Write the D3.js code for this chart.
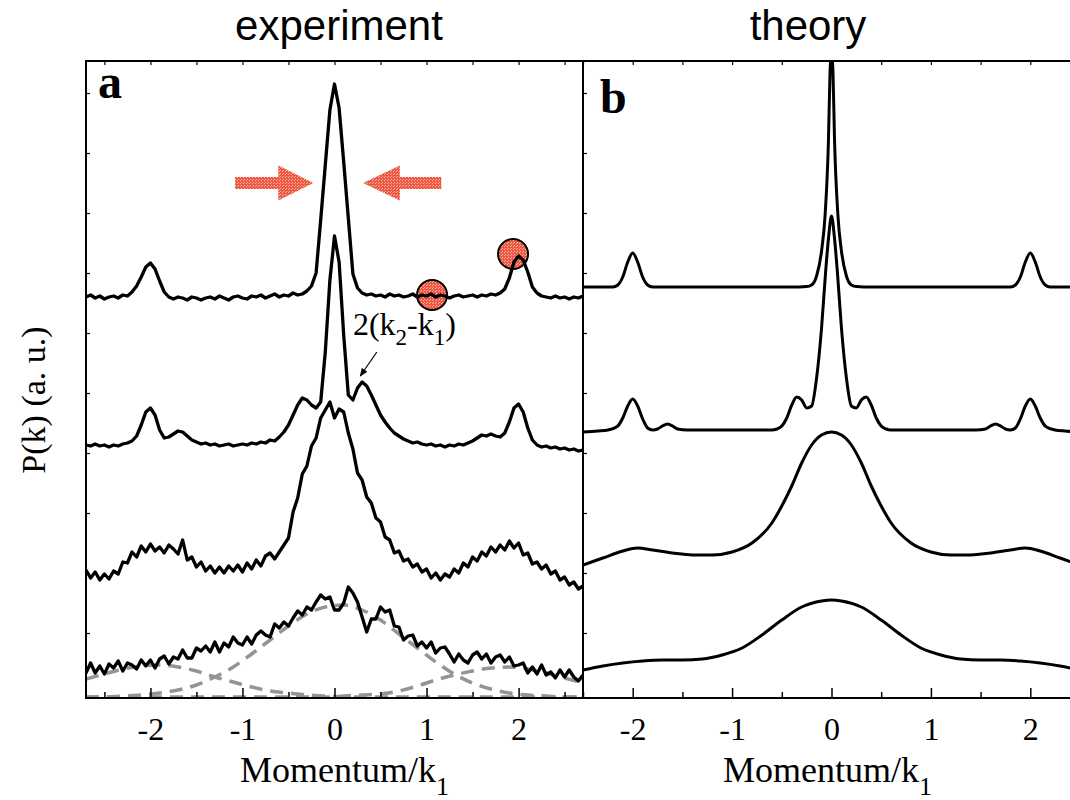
<!DOCTYPE html>
<html>
<head>
<meta charset="utf-8">
<script src="https://cdn.jsdelivr.net/npm/d3@7"></script>
<style>
  body { margin: 0; background: #fff; }
  svg { display: block; }
  .serif { font-family: "Liberation Serif", "Times New Roman", serif; }
  .sans { font-family: "Liberation Sans", Arial, sans-serif; }
</style>
</head>
<body>
<svg id="chart" width="1070" height="800"></svg>
<script>
// ---- experiment (panel a): P(k) sampled every 0.05 from k = -2.70 ----
const expStart = -2.7, expStep = 0.05;
const expTop = [
  401,403,400,402,399,401,402,400,403,402,
  406,412,421,431,435,429,417,406,401,399,
  401,400,398,401,400,398,400,401,399,402,
  400,398,401,402,400,399,402,401,403,400,
  402,404,401,403,402,405,403,404,407,412,
  425,478,533,588,614,590,536,480,424,410,
  405,403,404,402,403,401,404,402,403,401,
  402,404,401,403,402,404,401,403,402,400,
  402,403,401,402,403,401,403,402,404,403,
  405,409,420,436,442,438,426,411,405,402,
  401,400,402,400,401,399,401,400,402
];
const expSecond = [
  253,252,254,252,253,251,253,252,254,255,
  257,262,273,286,290,283,268,260,261,264,
  267,266,262,258,256,254,255,253,254,252,
  253,254,252,253,254,253,255,254,256,255,
  258,257,261,266,273,283,293,300,298,293,
  290,296,346,418,462,436,363,303,298,310,
  316,312,303,293,283,276,270,265,262,259,
  257,255,256,254,253,254,252,253,251,253,
  252,254,253,255,257,260,263,262,264,262,
  261,265,276,290,294,286,270,258,253,251,
  252,250,251,249,250,248,249,247,248
];
const expThird = [
  128,120,126,118,124,119,127,124,136,135,
  146,141,152,146,154,147,151,145,153,149,
  144,158,138,141,131,136,127,132,125,131,
  125,132,127,133,126,135,129,138,132,142,
  145,139,146,153,160,186,200,224,232,252,
  260,280,288,296,280,289,286,265,249,225,
  218,201,195,180,176,161,158,145,147,137,
  139,131,134,126,129,120,125,118,124,121,
  129,125,135,131,141,137,146,142,151,146,
  153,148,157,150,155,143,145,134,136,129,
  133,124,127,118,121,113,116,109,112
];
const expBottom = [
  25,35,25,32,24,34,30,37,27,35,
  33,29,38,32,38,30,39,42,34,41,
  39,48,40,40,50,47,52,46,56,46,
  55,51,61,55,53,61,54,63,67,63,
  61,74,70,76,72,80,87,83,91,88,
  96,103,99,101,88,88,95,111,105,96,
  81,66,79,79,91,86,88,72,71,58,
  62,63,52,56,50,56,45,50,51,44,
  36,44,38,35,43,46,39,44,35,41,
  43,36,41,32,33,35,25,31,24,33,
  23,26,20,28,21,28,21,17,23
];

// ---- fitted components under the bottom trace, every 0.2 from k = -2.7 ----
const fitStart = -2.7, fitStep = 0.2;
const fitLeft   = [19,24,29,32,33,31,27,21,16,11,7,5,3,2,1,1,1,1,1,1,1,1,1,1,1,1,1,1];
const fitCenter = [1,1,2,3,5,8,13,21,31,44,58,72,84,91,93,88,78,64,50,36,24,15,9,5,3,2,1,1];
const fitRight  = [1,1,1,1,1,1,1,1,1,1,1,1,1,1,2,3,4,7,12,18,23,27,30,31,29,25,20,15];

// ---- theory (panel b) ----
const thTopK = [-2.5,-2.3,-2.2,-2.15,-2.1,-2.05,-2,-1.95,-1.9,-1.85,-1.8,-1.6,-1,-0.4,-0.25,-0.2,-0.15,-0.1,-0.065,-0.03,-0.015,
  0,0.015,0.03,0.065,0.1,0.15,0.2,0.25,0.4,1,1.6,1.8,1.85,1.9,1.95,2,2.05,2.1,2.15,2.2,2.3,2.5];
const thTopP = [411,411,411,413,421,436,445,436,421,413,411,411,411,411,411.5,413,422,447,482,560,625,
  645,625,560,482,447,422,413,411.5,411,411,411,411,413,421,436,445,436,421,413,411,411,411];
const thSecondK = [-2.5,-2.35,-2.25,-2.15,-2.1,-2.05,-2,-1.95,-1.9,-1.85,-1.8,-1.75,-1.7,-1.65,-1.6,-1.55,-1.45,-1,
  -0.6,-0.55,-0.5,-0.45,-0.4,-0.35,-0.3,-0.25,-0.2,-0.15,-0.1,-0.06,-0.03,0,0.03,0.06,0.1,0.15,0.2,0.25,0.3,0.35,
  0.4,0.45,0.5,0.55,0.6,1,1.45,1.55,1.6,1.65,1.7,1.75,1.8,1.85,1.9,1.95,2,2.05,2.1,2.15,2.25,2.35,2.5];
const thSecondP = [266,267,268,272,280,292,299,292,279,270,268,269,272,274,272,269,268,268,
  268,269,272,280,293,301,298,290,292,320,370,425,460,482,460,425,370,320,292,290,298,301,
  293,280,272,269,268,268,268,269,272,274,272,269,268,270,279,292,299,292,280,272,268,267,266];
const thThirdK = [-2.5,-2.3,-2.1,-1.95,-1.8,-1.6,-1.4,-1.2,-1,-0.8,-0.6,-0.5,-0.4,-0.3,-0.2,-0.1,0,
  0.1,0.2,0.3,0.4,0.5,0.6,0.8,1,1.2,1.4,1.6,1.8,1.95,2.1,2.3,2.5];
const thThirdP = [133,140,147,150,148,145,143,143,146,155,175,192,212,235,253,263,266,
  263,253,235,212,192,175,155,146,143,143,145,148,150,147,140,133];
const thBottomK = [-2.5,-2.3,-2.1,-1.9,-1.7,-1.5,-1.3,-1.1,-0.9,-0.7,-0.5,-0.3,-0.1,0,
  0.1,0.3,0.5,0.7,0.9,1.1,1.3,1.5,1.7,1.9,2.1,2.3,2.5];
const thBottomP = [28,32,35,37,38,38,39,43,50,63,78,91,97,98,
  97,91,78,63,50,43,39,38,38,37,35,32,28];

// ---- axis ticks ----
const xMajor = [-2, -1, 0, 1, 2];
const xMinor = [-2.5, -1.5, -0.5, 0.5, 1.5, 2.5];
const yMinor = [65, 125, 185, 245, 305, 365, 425, 485, 545, 605];

// ---- annotations (data coordinates) ----
const pushArrows = [{tip: -0.23, base: -0.61, tail: -1.08}, {tip: 0.31, base: 0.71, tail: 1.16}];
const pushLevel = 515;
const markedPeaks = [{k: 1.06, p: 403}, {k: 1.94, p: 444}];

const svg = d3.select('#chart');
const plotTop = 61, plotBottom = 698, aLeft = 86, split = 583;

const xA = d3.scaleLinear().domain([-2.7, 2.7]).range([aLeft, split]);
const xB = d3.scaleLinear().domain([-2.5, 2.5]).range([split, 1080]);
const y = d3.scaleLinear().domain([0, 637]).range([plotBottom, plotTop]);

const defs = svg.append('defs');
defs.append('clipPath').attr('id', 'clipA').append('rect')
    .attr('x', aLeft).attr('y', plotTop).attr('width', split - aLeft).attr('height', plotBottom - plotTop);
defs.append('clipPath').attr('id', 'clipB').append('rect')
    .attr('x', split).attr('y', plotTop).attr('width', 1080 - split).attr('height', plotBottom - plotTop);
const pat = defs.append('pattern').attr('id', 'stipple')
    .attr('width', 3).attr('height', 3).attr('patternUnits', 'userSpaceOnUse');
pat.append('rect').attr('width', 3).attr('height', 3).attr('fill', '#ee5843');
pat.append('rect').attr('width', 1).attr('height', 1).attr('fill', '#fab4a6');
pat.append('rect').attr('x', 1).attr('y', 2).attr('width', 1).attr('height', 1).attr('fill', '#fab4a6');
defs.append('marker').attr('id', 'head')
    .attr('viewBox', '0 0 10 10').attr('refX', 9).attr('refY', 5)
    .attr('markerWidth', 7).attr('markerHeight', 7).attr('orient', 'auto')
    .append('path').attr('d', 'M0,1 L10,5 L0,9 Z').attr('fill', '#000');

const gA = svg.append('g').attr('clip-path', 'url(#clipA)');
const gB = svg.append('g').attr('clip-path', 'url(#clipB)');

// red markers go under the traces
gA.selectAll('circle.mark')
  .data(markedPeaks)
  .enter().append('circle')
  .attr('class', 'mark')
  .attr('cx', d => xA(d.k))
  .attr('cy', d => y(d.p))
  .attr('r', 15)
  .attr('fill', 'url(#stipple)')
  .attr('stroke', '#000')
  .attr('stroke-width', 2);

gA.selectAll('path.push')
  .data(pushArrows)
  .enter().append('path')
  .attr('class', 'push')
  .attr('d', d => {
    const c = y(pushLevel), s = 6, h = 17.5;
    const pts = [[xA(d.tail), c - s], [xA(d.base), c - s], [xA(d.base), c - h], [xA(d.tip), c],
                 [xA(d.base), c + h], [xA(d.base), c + s], [xA(d.tail), c + s]];
    return 'M' + pts.map(p => p.join(',')).join('L') + 'Z';
  })
  .attr('fill', 'url(#stipple)');

// fitted components (dashed grey)
const fitLine = d3.line()
    .x((d, i) => xA(fitStart + i * fitStep))
    .y(d => y(d))
    .curve(d3.curveMonotoneX);
gA.selectAll('path.fit')
  .data([fitLeft, fitCenter, fitRight])
  .enter().append('path')
  .attr('class', 'fit')
  .attr('d', fitLine)
  .attr('fill', 'none')
  .attr('stroke', '#949494')
  .attr('stroke-width', 3.5)
  .attr('stroke-dasharray', '13,8');

// measured traces
const expLine = d3.line()
    .x((d, i) => xA(expStart + i * expStep))
    .y(d => y(d));
gA.selectAll('path.exp')
  .data([expTop, expSecond, expThird, expBottom])
  .enter().append('path')
  .attr('class', 'exp')
  .attr('d', expLine)
  .attr('fill', 'none')
  .attr('stroke', '#000')
  .attr('stroke-width', 3.3)
  .attr('stroke-linejoin', 'round');

// theory traces
const thLine = d3.line()
    .x(d => xB(d[0]))
    .y(d => y(d[1]))
    .curve(d3.curveMonotoneX);
const theory = [[thTopK, thTopP], [thSecondK, thSecondP], [thThirdK, thThirdP], [thBottomK, thBottomP]]
    .map(([ks, ps]) => ks.map((k, i) => [k, ps[i]]));
gB.selectAll('path.th')
  .data(theory)
  .enter().append('path')
  .attr('class', 'th')
  .attr('d', thLine)
  .attr('fill', 'none')
  .attr('stroke', '#000')
  .attr('stroke-width', 3)
  .attr('stroke-linejoin', 'round');

// frames
svg.append('rect')
   .attr('x', aLeft).attr('y', plotTop).attr('width', split - aLeft).attr('height', plotBottom - plotTop)
   .attr('fill', 'none').attr('stroke', '#000').attr('stroke-width', 2);
svg.append('rect')
   .attr('x', split).attr('y', plotTop).attr('width', 1080 - split).attr('height', plotBottom - plotTop)
   .attr('fill', 'none').attr('stroke', '#000').attr('stroke-width', 2);

// axes
function xAxes(x) {
  const major = svg.append('g')
      .attr('class', 'serif')
      .attr('transform', `translate(0, ${plotBottom})`)
      .call(d3.axisBottom(x).tickValues(xMajor).tickSize(-10).tickPadding(19).tickFormat(d => String(d)));
  major.select('.domain').remove();
  major.selectAll('text').attr('font-size', 32).attr('fill', '#000').attr('font-family', 'Liberation Serif, serif');
  major.selectAll('line').attr('stroke-width', 1.5);
  const minor = svg.append('g')
      .attr('transform', `translate(0, ${plotBottom})`)
      .call(d3.axisBottom(x).tickValues(xMinor).tickSize(-6).tickFormat(''));
  minor.select('.domain').remove();
  minor.selectAll('line').attr('stroke-width', 1.5);
  const top = svg.append('g')
      .attr('transform', `translate(0, ${plotTop})`)
      .call(d3.axisTop(x).tickValues(xMajor.concat(xMinor)).tickSize(-4).tickFormat(''));
  top.select('.domain').remove();
  top.selectAll('line').attr('stroke-width', 1.2);
}
xAxes(xA);
xAxes(xB);

[aLeft, split].forEach(px => {
  const g = svg.append('g')
      .attr('transform', `translate(${px}, 0)`)
      .call(d3.axisRight(y).tickValues(yMinor).tickSize(4).tickFormat(''));
  g.select('.domain').remove();
  g.selectAll('line').attr('stroke-width', 1.2);
});

// titles
svg.append('text').attr('class', 'sans')
   .attr('x', 339).attr('y', 40).attr('text-anchor', 'middle')
   .attr('font-size', 42).text('experiment');
svg.append('text').attr('class', 'sans')
   .attr('x', 808).attr('y', 40).attr('text-anchor', 'middle')
   .attr('font-size', 42).text('theory');

svg.append('text').attr('class', 'serif')
   .attr('x', 98).attr('y', 98).attr('font-size', 48).attr('font-weight', 'bold').text('a');
svg.append('text').attr('class', 'serif')
   .attr('x', 600).attr('y', 113).attr('font-size', 48).attr('font-weight', 'bold').text('b');

[240, 723].forEach(px => {
  const t = svg.append('text').attr('class', 'serif')
     .attr('x', px).attr('y', 782).attr('font-size', 36);
  t.append('tspan').text('Momentum/k');
  t.append('tspan').attr('font-size', 26).attr('dy', 13).text('1');
});

svg.append('text').attr('class', 'serif')
   .attr('transform', 'translate(45, 400) rotate(-90)')
   .attr('text-anchor', 'middle').attr('font-size', 34)
   .text('P(k) (a. u.)');

// 2(k2-k1) label with pointer to the side band
const lab = svg.append('text').attr('class', 'serif')
   .attr('x', xA(0.2)).attr('y', y(363)).attr('font-size', 32);
lab.append('tspan').text('2(k');
lab.append('tspan').attr('font-size', 23).attr('dy', 10).text('2');
lab.append('tspan').attr('dy', -10).text('-k');
lab.append('tspan').attr('font-size', 23).attr('dy', 10).text('1');
lab.append('tspan').attr('dy', -10).text(')');
svg.append('line')
   .attr('x1', xA(0.46)).attr('y1', y(346))
   .attr('x2', xA(0.28)).attr('y2', y(322))
   .attr('stroke', '#000').attr('stroke-width', 1.2)
   .attr('marker-end', 'url(#head)');
</script>
</body>
</html>
